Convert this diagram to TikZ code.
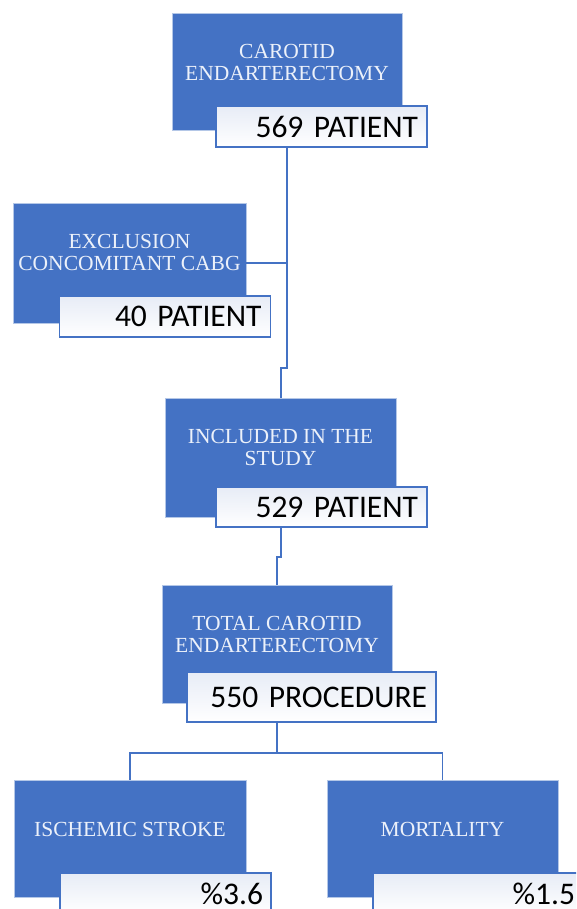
\documentclass[tikz,border=0pt]{standalone}
\usepackage{fontspec}
\setmainfont{Liberation Serif}
\newfontfamily\tagfont{Carlito}
\definecolor{boxblue}{RGB}{68,114,196}
\definecolor{tagtop}{RGB}{231,236,246}
\definecolor{boxtxt}{RGB}{236,241,250}

\begin{document}
\begin{tikzpicture}[x=1pt,y=-1pt,
    every node/.style={inner sep=0pt},
    stage/.style={fill=boxblue, draw=white!60!boxblue, line width=0.6pt},
    stagetext/.style={text=boxtxt, align=center, font=\fontsize{21.5}{22}\selectfont},
    tag/.style={draw=boxblue, line width=1.2pt, top color=tagtop, bottom color=white,
                minimum width=211pt, minimum height=41pt, inner xsep=9pt,
                text width=193pt, align=right, font=\tagfont\fontsize{31.5}{34}\selectfont},
    link/.style={draw=boxblue, line width=1.5pt}]
    \useasboundingbox (0,0) rectangle (576,909);
    \clip (0,0) rectangle (576,909);

    % boxes
    \node[stage, minimum width=230pt, minimum height=117pt] (cea) at (287,71.5) {};
    \node[stage, minimum width=233pt, minimum height=120pt] (excl) at (129.5,263) {};
    \node[stage, minimum width=231pt, minimum height=119pt] (incl) at (280.5,457.5) {};
    \node[stage, minimum width=230pt, minimum height=118pt] (total) at (277,644) {};
    \node[stage, minimum width=232pt, minimum height=117pt] (stroke) at (130,838.5) {};
    \node[stage, minimum width=231pt, minimum height=117pt] (mort) at (442.5,838.5) {};

    \node[stagetext] (cea-t) at ([yshift=-50pt]cea.north) {CAROTID\\ENDARTERECTOMY};
    \node[stagetext] (excl-t) at ([yshift=-50pt]excl.north) {EXCLUSION\\CONCOMITANT CABG};
    \node[stagetext] (incl-t) at ([yshift=-50pt]incl.north) {INCLUDED IN THE\\STUDY};
    \node[stagetext] (total-t) at ([yshift=-50pt]total.north) {TOTAL CAROTID\\ENDARTERECTOMY};
    \node[stagetext] (stroke-t) at ([yshift=-50pt]stroke.north) {ISCHEMIC STROKE};
    \node[stagetext] (mort-t) at ([yshift=-50pt]mort.north) {MORTALITY};

    % counts
    \node[tag] (cea-n) at (321.5,126.5) {569 PATIENT};
    \node[tag] (excl-n) at (165,316.5) {40 PATIENT};
    \node[tag, minimum height=40pt] (incl-n) at (321.5,507) {529 PATIENT};
    \node[tag, minimum width=249pt, minimum height=50pt, text width=231pt] (total-n) at (311.5,697) {550 PROCEDURE};
    \node[tag, inner xsep=7pt, text width=195pt] (stroke-n) at (165.5,893.5) {\%3.6};
    \node[tag] (mort-n) at (478.5,893.5) {\%1.5};

    % connectors
    \coordinate (j1) at (287,368);
    \coordinate (j2) at (281,368);
    \coordinate (j3) at (281,557);
    \coordinate (j4) at (277,557);
    \coordinate (j5) at (277,753);
    \draw[link] (cea-n.south -| j1) -- (j1) -- (j2) -- (incl.north -| j2);
    \draw[link] (excl.east) -- (excl.east -| j1);
    \draw[link] (incl-n.south -| j3) -- (j3) -- (j4) -- (total.north -| j4);
    \draw[link] (total-n.south -| j5) -- (j5);
    \draw[link] (stroke.north) -- (stroke.north |- j5) -- (mort.north |- j5) -- (mort.north);
\end{tikzpicture}
\end{document}
